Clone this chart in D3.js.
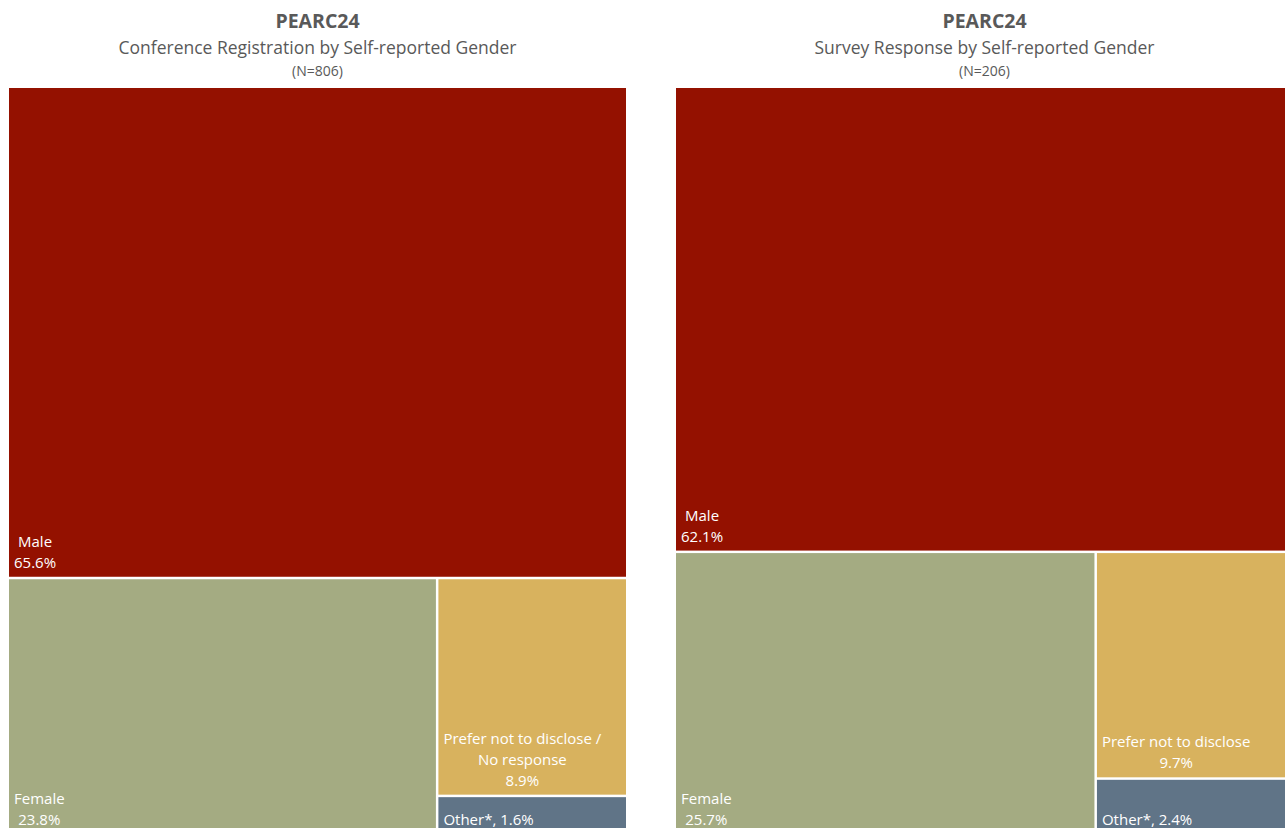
<!DOCTYPE html>
<html>
<head>
<meta charset="utf-8">
<script src="https://cdn.jsdelivr.net/npm/d3@7/dist/d3.min.js"></script>
<style>
  html, body { margin: 0; padding: 0; background: #fff; }
  svg { display: block; }
  text { font-family: "Open Sans", "Noto Sans", sans-serif; }
</style>
</head>
<body>
<svg id="chart" width="1285" height="828"></svg>
<script>
// categories (same order in both panels)
var categories = ["Male", "Female", "Prefer not to disclose", "Other*"];
var colors = ["#941100", "#a4ab82", "#d8b25e", "#607487"];

// counts read from the percentages (N=806 and N=206)
var registrationCounts = [529, 192, 72, 13];
var surveyCounts = [128, 53, 20, 5];

// label lines shown in each cell
var registrationLabels = [["Male"], ["Female"], ["Prefer not to disclose /", "No response"], ["Other*"]];
var surveyLabels = [["Male"], ["Female"], ["Prefer not to disclose"], ["Other*"]];
var inlineLabel = [false, false, false, true];

var panels = [
  { title: "PEARC24", subtitle: "Conference Registration by Self-reported Gender", n: 806,
    counts: registrationCounts, labels: registrationLabels, x: 9 },
  { title: "PEARC24", subtitle: "Survey Response by Self-reported Gender", n: 206,
    counts: surveyCounts, labels: surveyLabels, x: 676 }
];

var W = 617, H = 746, top0 = 88;
var svg = d3.select("#chart");

panels.forEach(function (p) {
  var g = svg.append("g").attr("transform", "translate(" + p.x + "," + top0 + ")");
  var cx = p.x + W / 2;

  // titles
  svg.append("text").attr("x", cx).attr("y", 28).attr("text-anchor", "middle")
    .attr("font-size", 19.5).attr("font-weight", "bold").attr("fill", "#595959").text(p.title);
  svg.append("text").attr("x", cx).attr("y", 54).attr("text-anchor", "middle")
    .attr("font-size", 17.5).attr("fill", "#595959").text(p.subtitle);
  svg.append("text").attr("x", cx).attr("y", 76).attr("text-anchor", "middle")
    .attr("font-size", 14).attr("fill", "#595959").text("(N=" + p.n + ")");

  var rows = categories.map(function (c, i) {
    return { name: c, value: p.counts[i], color: colors[i], lines: p.labels[i], inline: inlineLabel[i] };
  });
  var root = d3.hierarchy({ children: rows }).sum(function (d) { return d.value || 0; });
  d3.treemap()
    .tile(d3.treemapSquarify.ratio(1))
    .size([W, H])
    .paddingInner(2.5)(root);

  var fmt = d3.format(".1%");
  var cell = g.selectAll("g.cell").data(root.leaves()).enter().append("g").attr("class", "cell");
  cell.append("rect")
    .attr("x", function (d) { return d.x0; })
    .attr("y", function (d) { return d.y0; })
    .attr("width", function (d) { return d.x1 - d.x0; })
    .attr("height", function (d) { return d.y1 - d.y0; })
    .attr("fill", function (d) { return d.data.color; });

  cell.each(function (d) {
    var pct = fmt(d.value / root.value);
    var lines = d.data.inline ? [d.data.lines[0] + ", " + pct] : d.data.lines.concat([pct]);
    var lh = 21;
    var t = d3.select(this).append("text")
      .attr("font-size", 15).attr("fill", "#ffffff").attr("text-anchor", "middle");
    var spans = t.selectAll("tspan").data(lines).enter().append("tspan")
      .attr("y", function (l, i) { return d.y1 - 9 - (lines.length - 1 - i) * lh; })
      .text(function (l) { return l; });
    var maxW = 0;
    spans.each(function () { maxW = Math.max(maxW, this.getComputedTextLength()); });
    spans.attr("x", d.x0 + 5 + maxW / 2);
  });
});
</script>
</body>
</html>
